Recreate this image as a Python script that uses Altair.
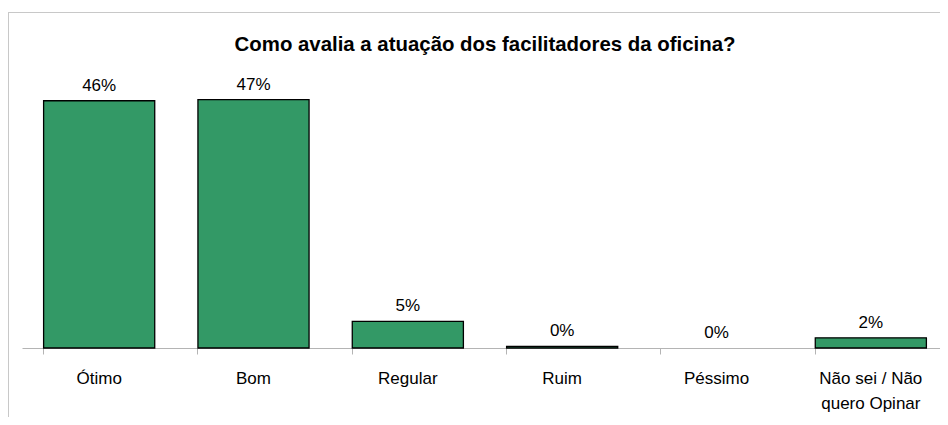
import altair as alt
import pandas as pd

categories = ["Ótimo", "Bom", "Regular", "Ruim", "Péssimo", "Não sei / Não|quero Opinar"]
values = [46.3, 46.5, 5.0, 0.3, 0.0, 1.9]
labels = ["46%", "47%", "5%", "0%", "0%", "2%"]
title_text = "Como avalia a atuação dos facilitadores da oficina?"

df = pd.DataFrame({"cat": categories, "val": values, "lab": labels})

FONT = "Liberation Sans"

xscale = alt.Scale(paddingInner=0.28, paddingOuter=0.14, range=[0, 926])
x = alt.X("cat:N", sort=categories, title=None, scale=xscale,
          axis=alt.Axis(labelAngle=0, labelFont=FONT, labelFontSize=17, labelColor="#000000",
                        labelBaseline="alphabetic", labelPadding=29, labelLineHeight=25,
                        labelExpr="split(datum.label, '|')",
                        domainColor="#b4b4b4", tickColor="#b4b4b4", tickSize=6,
                        bandPosition=0, grid=False))
y = alt.Y("val:Q", scale=alt.Scale(domain=[0, 50]), axis=None)

bars = alt.Chart(df).transform_filter("datum.val > 0").mark_bar(
    color="#339966", stroke="#000000", strokeWidth=1.3).encode(x=x, y=y)
text = alt.Chart(df).mark_text(font=FONT, fontSize=17, color="#000000", baseline="alphabetic", dy=-10).encode(
    x=alt.X("cat:N", sort=categories), y="val:Q", text="lab:N")

frame_top = alt.Chart(df).mark_rule(color="#c8c8c8", strokeWidth=1).encode(
    x=alt.value(-13.5), x2=alt.value(940), y=alt.value(-68.5))
frame_left = alt.Chart(df).mark_rule(color="#c8c8c8", strokeWidth=1).encode(
    x=alt.value(-13.5), y=alt.value(-68.5), y2=alt.value(400))

title = alt.Chart(pd.DataFrame({"t": [title_text]})).mark_text(
    font=FONT, fontSize=20.4, fontWeight="bold", color="#000000", baseline="alphabetic").encode(
    x=alt.value(463), y=alt.value(-30), text="t:N")

chart = alt.layer(frame_top, frame_left, bars, text, title).properties(
    width=918, height=267,
    autosize=alt.AutoSizeParams(type="none"),
    padding={"left": 14, "top": 73, "right": 0, "bottom": 69},
).configure_view(stroke=None)

chart.save("out.html", embed_options={"renderer": "svg", "actions": False})
